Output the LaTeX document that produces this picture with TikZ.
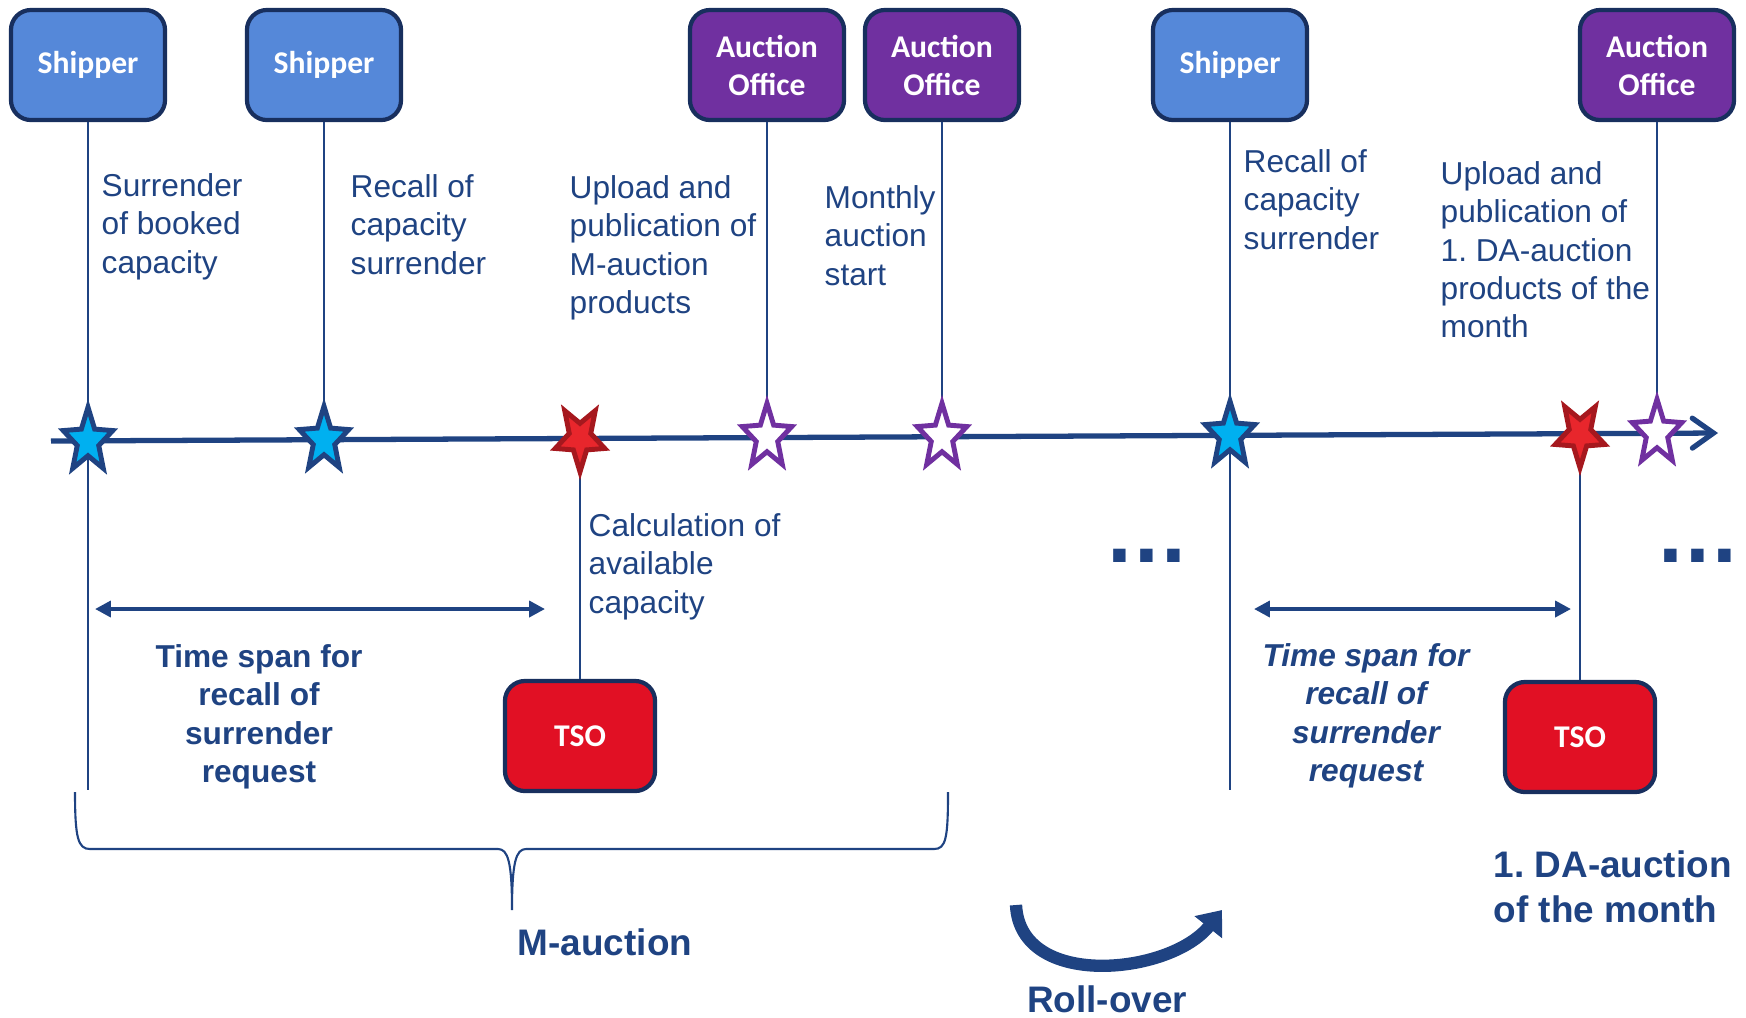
\documentclass[tikz,border=0pt]{standalone}
\usepackage{fontspec}
\setmainfont{Liberation Sans}
\newfontfamily\boxfont{Carlito}
\newfontfamily\dotfont{DejaVu Sans}
\usepackage[]{xcolor}
\usetikzlibrary{shapes.geometric,arrows.meta}
\definecolor{tlblue}{RGB}{31,67,130}
\definecolor{boxline}{RGB}{24,47,94}
\definecolor{shipblue}{RGB}{85,136,217}
\definecolor{aopurple}{RGB}{112,48,160}
\definecolor{tsored}{RGB}{225,16,36}
\definecolor{starblue}{RGB}{0,176,240}
\definecolor{starred}{RGB}{232,38,44}
\definecolor{stardark}{RGB}{166,24,30}

\begin{document}
\begin{tikzpicture}[x = 0.01cm, y = -0.01cm,
  actor/.style = {draw = boxline, line width = 1.2pt, rounded corners = 0.2cm, minimum width = 1.54cm, minimum height = 1.1cm, inner sep = 0pt, align = center, text = white, font = \boxfont\fontsize{9}{10.8}\selectfont\bfseries},
  shipper/.style = {actor, fill = shipblue},
  office/.style = {actor, fill = aopurple},
  tso/.style = {actor, fill = tsored, minimum width = 1.5cm, minimum height = 1.1cm},
  evstar/.style = {star, star points = 5, star point ratio = 2.3, minimum size = 0.52cm, inner sep = 0pt, yscale = 1.3, line width = 1.4pt},
  bluestar/.style = {evstar, draw = tlblue, fill = starblue},
  redstar/.style = {evstar, draw = stardark, fill = starred, shape border rotate = 180},
  purplestar/.style = {evstar, draw = aopurple, fill = white},
  vline/.style = {draw = tlblue, line width = 0.6pt},
  desc/.style = {anchor = north west, align = left, inner sep = 0pt, text = tlblue, font = \fontsize{9}{10.9}\selectfont},
  spanlabel/.style = {anchor = north, align = center, inner sep = 0pt, text = tlblue, font = \fontsize{9}{10.9}\selectfont\bfseries},
  spanarrow/.style = {draw = tlblue, line width = 1.1pt, {Triangle[length = 4.5pt, width = 4.5pt]}-{Triangle[length = 4.5pt, width = 4.5pt]}},
  phase/.style = {inner sep = 0pt, text = tlblue, font = \fontsize{10.5}{12.8}\selectfont\bfseries},
  dots/.style = {inner sep = 0pt, text = tlblue, font = \dotfont\fontsize{20}{20}\selectfont\bfseries}]
\useasboundingbox (0,0) rectangle (1746,1017);

% timeline
\coordinate (tl0) at (51,441);
\coordinate (tl1) at (1718,433);
\draw[tlblue, line width = 1.5pt, -{Straight Barb[length = 6pt, width = 8.5pt, line cap = round]}] (tl0) -- (tl1);
\coordinate (ev1) at (88,441);
\coordinate (ev2) at (324,440);
\coordinate (ev3) at (580,438);
\coordinate (ev4) at (767,437);
\coordinate (ev5) at (942,437);
\coordinate (ev6) at (1230,435);
\coordinate (ev7) at (1580,434);
\coordinate (ev8) at (1657,433);
\coordinate (end1) at (88,790);
\coordinate (end2) at (1230,790);

\node[shipper] (sh1) at (88,65) {Shipper};
\node[shipper] (sh2) at (324,65) {Shipper};
\node[office] (ao1) at (767,65) {Auction\\Office};
\node[office] (ao2) at (942,65) {Auction\\Office};
\node[shipper] (sh3) at (1230,65) {Shipper};
\node[office] (ao3) at (1657,65) {Auction\\Office};
\node[tso] (tso1) at (580,736) {TSO};
\node[tso] (tso2) at (1580,737) {TSO};

\draw[vline] (sh1) -- (end1);
\draw[vline] (sh2) -- (ev2);
\draw[vline] (ev3) -- (tso1);
\draw[vline] (ao1) -- (ev4);
\draw[vline] (ao2) -- (ev5);
\draw[vline] (sh3) -- (end2);
\draw[vline] (ev7) -- (tso2);
\draw[vline] (ao3) -- (ev8);

\node[bluestar] (st1) at (ev1) {};
\node[bluestar] (st2) at (ev2) {};
\node[redstar] (st3) at (ev3) {};
\node[purplestar] (st4) at (ev4) {};
\node[purplestar] (st5) at (ev5) {};
\node[bluestar] (st6) at (ev6) {};
\node[redstar] (st7) at (ev7) {};
\node[purplestar] (st8) at (ev8) {};

\node[desc] (t1) at (101,173) {Surrender\\of booked\\capacity};
\node[desc] (t2) at (350,174) {Recall of\\capacity\\surrender};
\node[desc] (t3) at (569,175) {Upload and\\publication of\\M-auction\\products};
\node[desc] (t4) at (824,185) {Monthly\\auction\\start};
\node[desc] (t5) at (1243,149) {Recall of\\capacity\\surrender};
\node[desc] (t6) at (1440,161) {Upload and\\publication of\\1.\ DA-auction\\products of the\\month};
\node[desc] (t7) at (588,513) {Calculation of\\available\\capacity};

% time spans
\coordinate (a1) at (95,609);
\coordinate (a2) at (545,609);
\coordinate (a3) at (1254,609);
\coordinate (a4) at (1571,609);
\draw[spanarrow] (a1) -- (a2);
\draw[spanarrow] (a3) -- (a4);
\node[spanlabel] (span1) at (259,644) {Time span for\\recall of\\surrender\\request};
\node[spanlabel, font = \fontsize{9}{10.9}\selectfont\bfseries\itshape] (span2) at (1366,643) {Time span for\\recall of\\surrender\\request};

\node[dots] (dots1) at (1147,556) {...};
\node[dots] (dots2) at (1698,556) {...};

% brace and phases
\coordinate (br0) at (75,792);
\coordinate (br1) at (948,792);
\coordinate (brtip) at (512,910);
\draw[tlblue, line width = 0.6pt] (br0) .. controls (75,838) and (78,849) .. (90,849) -- (498,849)
  .. controls (508,849) and (512,862) .. (brtip) .. controls (512,862) and (516,849) .. (526,849)
  -- (934,849) .. controls (946,849) and (948,838) .. (br1);
\node[phase] (mauc) at (605,942) {M-auction};
\node[phase, anchor = north west, align = left] (daauc) at (1493,850) {1.\ DA-auction\\of the month};

\coordinate (ro0) at (1016,905);
\coordinate (ro1) at (1222,910);
\draw[tlblue, line width = 3.5pt, -{Triangle[length = 0.22cm, width = 0.34cm]}] (ro0) .. controls (1020,990) and (1170,975) .. (ro1);
\node[phase] (roll) at (1107,999) {Roll-over};
\end{tikzpicture}
\end{document}
